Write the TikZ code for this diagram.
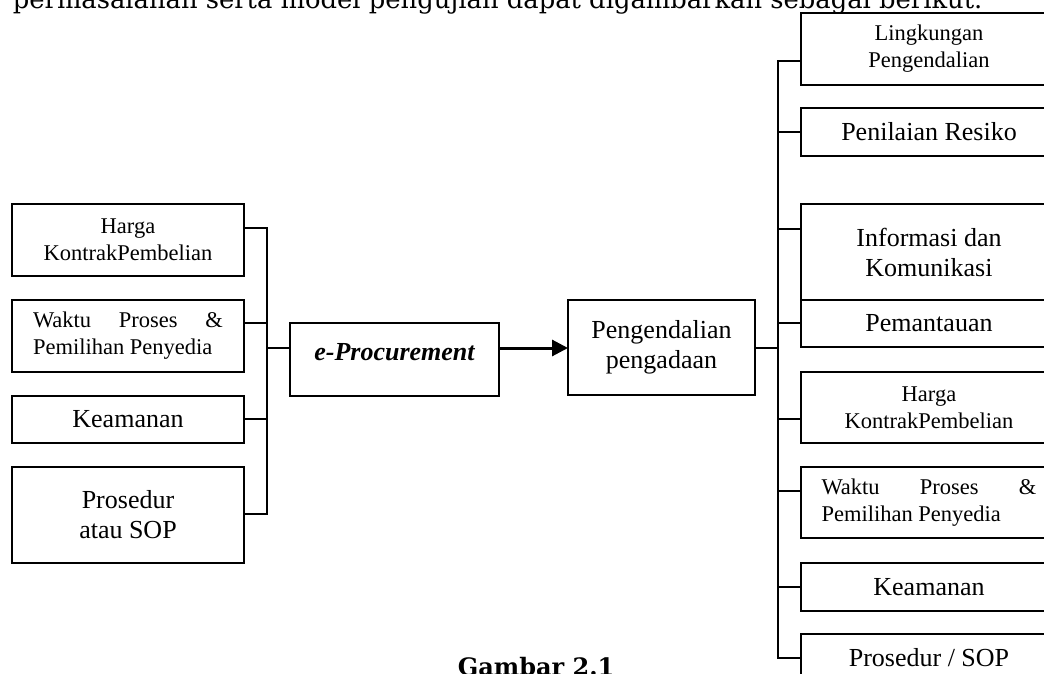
\documentclass[tikz,border=0pt]{standalone}
\usepackage{fontspec}
\setmainfont{Liberation Serif}
\newfontfamily\bookfont{DejaVu Serif}
\usetikzlibrary{arrows.meta, positioning}
\tikzset{
  every picture/.style={line width=1.8pt},
  box/.style={draw, rectangle, inner sep=0pt, outer sep=0pt, align=center, font=\fontsize{26}{30}\selectfont},
  smalltext/.style={font=\fontsize{22.5}{27}\selectfont},
  wire/.style={draw, line width=1.8pt},
  arrow/.style={-{Triangle[length=16pt, width=16pt]}, line width=3pt},
}
\newcommand{\spreadline}[2]{\makebox[#1][s]{#2}}

\begin{document}
\begin{tikzpicture}[x=1pt, y=-1pt, node distance=24pt,
  lbox/.style={box, minimum width=232pt, anchor=north west},
  rbox/.style={box, minimum width=256pt, anchor=north west}]
  \useasboundingbox (0,0) rectangle (1044,674);
  \clip (0,0) rectangle (1044,674);
  \node[anchor=base west, inner sep=0pt, font=\bookfont\fontsize{25.8}{30}\selectfont] (intro) at (12,8.5)
    {permasalahan serta model pengujian dapat digambarkan sebagai berikut.};
  \node[lbox, smalltext, minimum height=72pt] (harga1) at (12,204) {Harga\\KontrakPembelian};
  \node[lbox, smalltext, minimum height=72pt, below=of harga1, align=left] (waktu1)
    {\spreadline{190pt}{Waktu Proses \&}\\Pemilihan Penyedia};
  \node[lbox, minimum height=47pt, below=of waktu1] (aman1) {Keamanan};
  \node[lbox, minimum height=96pt, below=of aman1] (sop1) {Prosedur\\atau SOP};
  \node[box, minimum width=209pt, minimum height=73pt, anchor=north west, text depth=15pt,
    font=\bfseries\itshape\fontsize{26}{30}\selectfont] (eproc) at (290,323) {e-Procurement};
  \node[box, minimum width=187pt, minimum height=95pt, anchor=north west] (pengadaan) at (568,300) {Pengendalian\\pengadaan};
  \node[rbox, smalltext, minimum height=72pt] (lingkungan) at (801,13) {Lingkungan\\Pengendalian};
  \node[rbox, minimum height=48pt, below=23pt of lingkungan] (resiko) {Penilaian Resiko};
  \node[rbox, minimum height=96pt, below=48pt of resiko] (info) {Informasi dan\\Komunikasi};
  \node[rbox, minimum height=47pt, below=0pt of info] (pantau) {Pemantauan};
  \node[rbox, smalltext, minimum height=71pt, below=25pt of pantau] (harga2) {Harga\\KontrakPembelian};
  \node[rbox, smalltext, minimum height=71pt, below=of harga2, align=left] (waktu2)
    {\spreadline{215pt}{Waktu Proses \&}\\Pemilihan Penyedia};
  \node[rbox, minimum height=48pt, below=25pt of waktu2] (aman2) {Keamanan};
  \node[rbox, minimum height=48pt, below=23pt of aman2] (sop2) {Prosedur / SOP};
  \node[anchor=base west, inner sep=0pt, font=\bookfont\bfseries\fontsize{24}{28}\selectfont] (caption) at (457,675) {Gambar 2.1};

  \coordinate (lb1) at (267,228);
  \coordinate (lb2) at (267,323);
  \coordinate (lb3) at (267,419);
  \coordinate (lb4) at (267,514);
  \coordinate (lbe) at (267,348);
  \draw[wire] (lb1 -| harga1.east) -| (lb4) -- (lb4 -| sop1.east);
  \draw[wire] (lb2 -| waktu1.east) -- (lb2);
  \draw[wire] (lb3 -| aman1.east) -- (lb3);
  \draw[wire] (lbe) -- (lbe -| eproc.west);
  \draw[arrow] (lbe -| eproc.east) -- (lbe -| pengadaan.west);

  \coordinate (rb1) at (778,61);
  \coordinate (rb2) at (778,132);
  \coordinate (rb3) at (778,229);
  \coordinate (rb4) at (778,323);
  \coordinate (rb5) at (778,419);
  \coordinate (rb6) at (778,491);
  \coordinate (rb7) at (778,587);
  \coordinate (rb8) at (778,658);
  \coordinate (rbp) at (778,348);
  \draw[wire] (rb1 -| lingkungan.west) -| (rb8) -- (rb8 -| sop2.west);
  \draw[wire] (rb2) -- (rb2 -| resiko.west);
  \draw[wire] (rb3) -- (rb3 -| info.west);
  \draw[wire] (rb4) -- (rb4 -| pantau.west);
  \draw[wire] (rb5) -- (rb5 -| harga2.west);
  \draw[wire] (rb6) -- (rb6 -| waktu2.west);
  \draw[wire] (rb7) -- (rb7 -| aman2.west);
  \draw[wire] (rbp -| pengadaan.east) -- (rbp);
\end{tikzpicture}
\end{document}
